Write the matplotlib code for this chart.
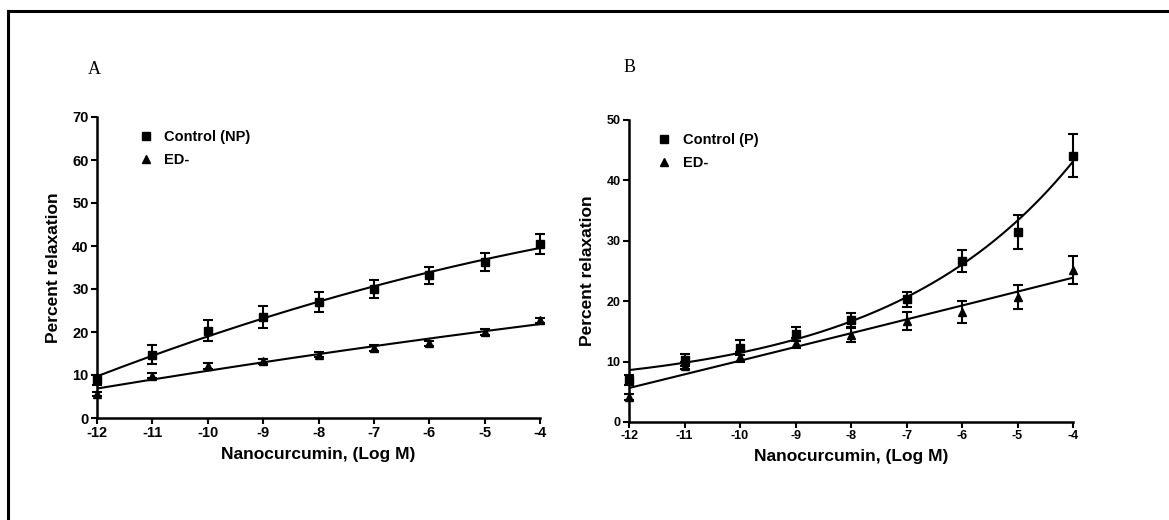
#nanocurcumin relaxation curves, panels A and B
import numpy as np
import matplotlib
matplotlib.use('Agg')
from matplotlib import pyplot as plt

plt.rcParams['font.family'] = ['Liberation Sans', 'DejaVu Sans']
plt.rcParams['axes.unicode_minus'] = False

#doses (log M)
log_dose = [-12, -11, -10, -9, -8, -7, -6, -5, -4]

#panel A, non pregnant
ctrl_np = [8.8, 14.7, 20.3, 23.5, 27.0, 30.0, 33.2, 36.3, 40.5]
ctrl_np_err = [1.2, 2.2, 2.5, 2.5, 2.4, 2.0, 2.0, 2.0, 2.3]
ed_np = [5.6, 9.8, 12.2, 13.2, 14.7, 16.2, 17.4, 20.0, 22.7]
ed_np_err = [0.5, 0.6, 0.7, 0.6, 0.6, 0.7, 0.6, 0.7, 0.6]

#panel B, pregnant
ctrl_p = [7.0, 10.2, 12.3, 14.6, 16.9, 20.3, 26.6, 31.4, 44.1]
ctrl_p_err = [0.8, 1.0, 1.2, 1.2, 1.1, 1.2, 1.8, 2.8, 3.5]
ed_p = [4.1, 9.3, 10.8, 13.1, 14.4, 16.7, 18.2, 20.7, 25.2]
ed_p_err = [0.5, 0.6, 0.8, 0.8, 1.2, 1.5, 1.8, 2.0, 2.3]

fig = plt.figure(figsize=(11.69, 5.2), dpi=100)

#outer frame, only top and left edge show
fig.add_artist(plt.Line2D([8/1169, 1], [1-11/520, 1-11/520], color='black', lw=2.2))
fig.add_artist(plt.Line2D([8/1169, 8/1169], [0, 1-11/520], color='black', lw=2.2))

def exp_fit(x, y, xs):
    #y = a + b*exp(k*x), grid over k and least squares for a, b
    best = None
    for k in np.linspace(0.05, 1.5, 300):
        A = np.column_stack([np.ones_like(x), np.exp(k*x)])
        coef, res, _, _ = np.linalg.lstsq(A, y, rcond=None)
        err = np.sum((A @ coef - y)**2)
        if best is None or err < best[0]:
            best = (err, k, coef)
    _, k, coef = best
    return coef[0] + coef[1]*np.exp(k*xs)

def panel(rect, ctrl, ctrl_err, ed, ed_err, ctrl_lab, ymax, exp_ctrl, tick_fs, leg_anchor):
    ax = fig.add_axes(rect)
    x = np.array(log_dose, dtype=float)
    xs = np.linspace(-12, -4, 200)
    #smooth fitted curves through the points
    if exp_ctrl:
        yc = exp_fit(x, np.array(ctrl), xs)
    else:
        yc = np.polyval(np.polyfit(x, ctrl, 2), xs)
    ye = np.polyval(np.polyfit(x, ed, 2), xs)
    ax.plot(xs, yc, color='black', lw=1.5)
    ax.plot(xs, ye, color='black', lw=1.5)
    ax.errorbar(x, ctrl, yerr=ctrl_err, fmt='s', color='black', ms=6,
        capsize=3.5, elinewidth=1.5, capthick=1.5, label=ctrl_lab, clip_on=False)
    ax.errorbar(x, ed, yerr=ed_err, fmt='^', color='black', ms=6,
        capsize=3.5, elinewidth=1.5, capthick=1.5, label='ED-', clip_on=False)
    ax.set_xlim(-12, -4)
    ax.set_ylim(0, ymax)
    ax.set_xticks(log_dose)
    ax.set_yticks(np.arange(0, ymax+1, 10))
    for s in ['top', 'right']:
        ax.spines[s].set_visible(False)
    for s in ['left', 'bottom']:
        ax.spines[s].set_linewidth(1.8)
    ax.tick_params(width=1.5, length=4, labelsize=tick_fs, pad=2)
    for lab in ax.get_xticklabels() + ax.get_yticklabels():
        lab.set_fontweight('bold')
    ax.set_xlabel('Nanocurcumin, (Log M)', fontsize=12.5, fontweight='bold', labelpad=5)
    ax.set_ylabel('Percent relaxation', fontsize=12.5, fontweight='bold', labelpad=8)
    handles, labels = ax.get_legend_handles_labels()
    handles = [h[0] for h in handles]
    ax.legend(handles, labels, loc='upper left', bbox_to_anchor=leg_anchor, frameon=False,
        handlelength=0.6, handletextpad=1.0, labelspacing=0.6, prop={'size': 10.5, 'weight': 'bold'})
    return ax

axA = panel([97/1169, 102/520, 443/1169, 301/520], ctrl_np, ctrl_np_err, ed_np, ed_np_err,
    'Control (NP)', 70, False, 10.5, (0.07, 1.0))
axB = panel([629/1169, 98/520, 444/1169, 302/520], ctrl_p, ctrl_p_err, ed_p, ed_p_err,
    'Control (P)', 50, True, 9, (0.04, 1.0))

fig.text(88/1169, 1-70/520, 'A', family='Liberation Serif', fontsize=13, va='center')
fig.text(624/1169, 1-68/520, 'B', family='Liberation Serif', fontsize=13, va='center')

plt.savefig('out.png', dpi=100)
